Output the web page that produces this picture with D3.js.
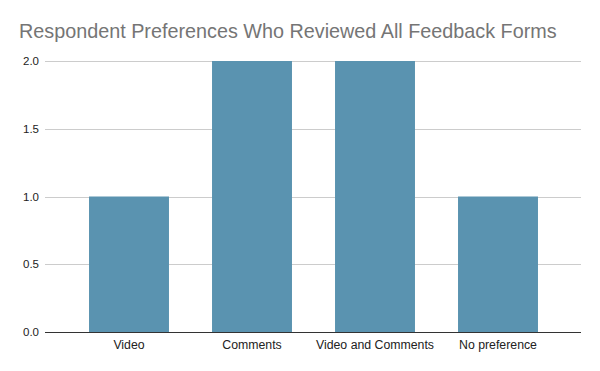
<!DOCTYPE html>
<html lang="en">
<head>
	<meta charset="UTF-8">
	<title>chart</title>
	<style>
		body { margin: 0; background: #fff; }
		text { font-family: "Liberation Sans", Arial, sans-serif; }
	</style>
</head>
<body>
	<svg id="cont" width="600" height="371"></svg>
</body>
<script src="https://cdn.jsdelivr.net/npm/d3@7"></script>
<script>
	let categories = ["Video", "Comments", "Video and Comments", "No preference"];
	let counts = [1, 2, 2, 1];
	let yTicks = [0, 0.5, 1, 1.5, 2];

	let svg = d3.select("#cont");

	svg.append("text")
		.attr("x", 19)
		.attr("y", 38)
		.attr("fill", "#757575")
		.style("font-size", "19.8px")
		.text("Respondent Preferences Who Reviewed All Feedback Forms");

	let y = d3.scaleLinear().domain([0, 2]).range([332, 61]);
	let x = d3.scaleBand().domain(categories).range([67.5, 559.5]).paddingInner(0.35).paddingOuter(0.175);

	// gridlines
	svg.append("g").selectAll("line")
		.data(yTicks.filter(d => d > 0))
		.enter().append("line")
		.attr("x1", 45).attr("x2", 581)
		.attr("y1", d => Math.round(y(d)) + 0.5)
		.attr("y2", d => Math.round(y(d)) + 0.5)
		.attr("stroke", "#cccccc");

	// y labels
	svg.append("g").selectAll("text")
		.data(yTicks)
		.enter().append("text")
		.attr("x", 39)
		.attr("y", d => y(d) + 4)
		.attr("text-anchor", "end")
		.attr("fill", "#222")
		.style("font-size", "11.5px")
		.text(d => d3.format(".1f")(d));

	// bars
	svg.append("g").selectAll("rect")
		.data(categories)
		.enter().append("rect")
		.attr("x", d => x(d))
		.attr("width", x.bandwidth())
		.attr("y", (d, i) => y(counts[i]))
		.attr("height", (d, i) => y(0) - y(counts[i]))
		.attr("fill", "#5a93b0");

	// baseline
	svg.append("line")
		.attr("x1", 45).attr("x2", 581)
		.attr("y1", 332.5).attr("y2", 332.5)
		.attr("stroke", "#333");

	// x labels
	svg.append("g").selectAll("text")
		.data(categories)
		.enter().append("text")
		.attr("x", d => x(d) + x.bandwidth() / 2)
		.attr("y", 349)
		.attr("text-anchor", "middle")
		.attr("fill", "#222")
		.style("font-size", "12.3px")
		.text(d => d);
</script>
</html>
